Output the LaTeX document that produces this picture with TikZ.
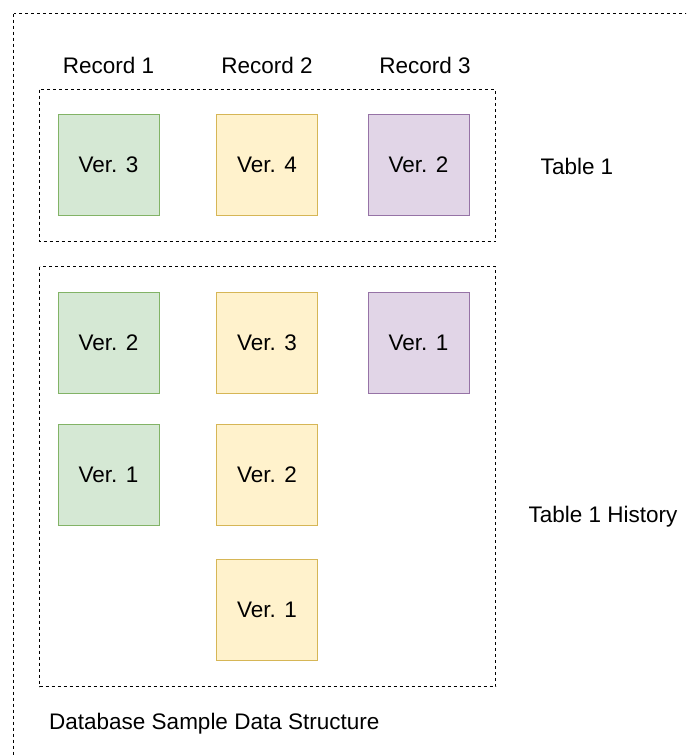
\documentclass[tikz,border=0pt]{standalone}
\usepackage{fontspec}
\setmainfont{Liberation Sans}
\definecolor{gfill}{HTML}{D5E8D4}\definecolor{gdraw}{HTML}{82B366}
\definecolor{yfill}{HTML}{FFF2CC}\definecolor{ydraw}{HTML}{D6B656}
\definecolor{pfill}{HTML}{E1D5E7}\definecolor{pdraw}{HTML}{9673A6}
\tikzset{
  frame/.style={draw=black, line width=1.1pt, dash pattern=on 3pt off 3pt},
  verbox/.style={minimum width=101pt, minimum height=101pt, line width=1pt, inner sep=0pt, text depth=0pt, font=\fontsize{22.5pt}{25pt}\selectfont},
  green/.style={verbox, fill=gfill, draw=gdraw},
  yellow/.style={verbox, fill=yfill, draw=ydraw},
  purple/.style={verbox, fill=pfill, draw=pdraw},
  lbl/.style={font=\fontsize{22.5pt}{25pt}\selectfont, inner sep=0pt}
}
\begin{document}
\begin{tikzpicture}[x=1pt,y=-1pt]
\useasboundingbox (0,0) rectangle (686,755);
\begin{scope}
\clip (0,0) rectangle (686,755);
\draw[frame] (13.5,13.5) rectangle (720,790);
\end{scope}
\draw[frame] (39.5,89.5) rectangle (495.5,241.5);
\draw[frame] (39.5,266.5) rectangle (495.5,686.5);
\node[lbl] (r1) at (108.5,65) {Record 1};
\node[lbl] (r2) at (267,65) {Record 2};
\node[lbl] (r3) at (425,65) {Record 3};
\node[lbl] (t1) at (577,166) {Table 1};
\node[lbl] (t1h) at (603,517) {Table 1 History};
\node[lbl, anchor=west] (db) at (49,724) {Database Sample Data Structure};
\node[green] (g3) at (108.5,164.5) {Ver. 3};
\node[yellow] (y4) at (267,164.5) {Ver. 4};
\node[purple] (p2) at (418.5,164.5) {Ver. 2};
\node[green] (g2) at (108.5,342.5) {Ver. 2};
\node[yellow] (y3) at (267,342.5) {Ver. 3};
\node[purple] (p1) at (418.5,342.5) {Ver. 1};
\node[green] (g1) at (108.5,474.5) {Ver. 1};
\node[yellow] (y2) at (267,474.5) {Ver. 2};
\node[yellow] (y1) at (267,609.5) {Ver. 1};
\end{tikzpicture}
\end{document}
